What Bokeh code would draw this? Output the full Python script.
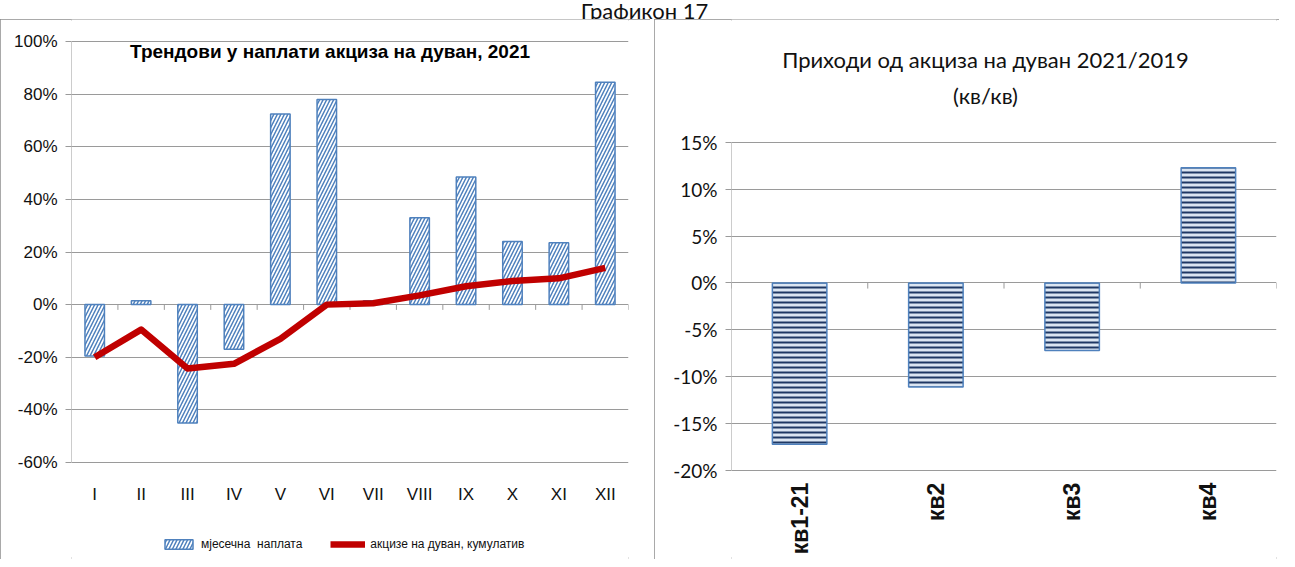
import math
from bokeh.plotting import figure
from bokeh.models import (FactorRange, Range1d, FixedTicker, NumeralTickFormatter,
                          Label, Legend, LegendItem, Div)
from bokeh.layouts import row, column
from bokeh.core.properties import value
from bokeh.embed import file_html
from bokeh.resources import INLINE

# ---------------- data ----------------
months = ["I", "II", "III", "IV", "V", "VI", "VII", "VIII", "IX", "X", "XI", "XII"]
monthly = [-0.195, 0.015, -0.45, -0.17, 0.725, 0.78, 0.015, 0.33, 0.485, 0.24, 0.235, 0.845]
cumulative = [-0.20, -0.095, -0.243, -0.225, -0.13, 0.0, 0.005, 0.035, 0.07, 0.09, 0.10, 0.14]
left_ticks = [-0.6, -0.4, -0.2, 0.0, 0.2, 0.4, 0.6, 0.8, 1.0]

quarters = ["кв1-21", "кв2", "кв3", "кв4"]
quarter_vals = [-0.172, -0.111, -0.072, 0.123]
right_ticks = [-0.20, -0.15, -0.10, -0.05, 0.0, 0.05, 0.10, 0.15]

page_title = "Графикон 17"
left_title = "Трендови у наплати акциза на дуван, 2021"
right_title = ["Приходи од акциза на дуван 2021/2019", "(кв/кв)"]
legend_labels = ["мјесечна  наплата", "акцизе на дуван, кумулатив"]

# ---------------- styles ----------------
SANS = "Liberation Sans"
CAL = "Lato"
GRID = "#9a9a9a"
BLUE = "#4F81BD"
NAVY = "#1F3864"
RED = "#C00000"
TXT = "#111111"
BORDER = {"outline": "2px solid #8c8c8c", "outline-offset": "-2px"}


def style_yaxis(p, ticks, font, size):
    p.yaxis.ticker = FixedTicker(ticks=ticks)
    p.ygrid.ticker = FixedTicker(ticks=ticks)
    p.yaxis.formatter = NumeralTickFormatter(format="0%")
    p.yaxis.axis_line_color = None
    p.yaxis.major_tick_line_color = GRID
    p.yaxis.major_tick_out = 6
    p.yaxis.major_tick_in = 0
    p.yaxis.minor_tick_line_color = None
    p.yaxis.major_label_standoff = 8
    p.yaxis.major_label_text_font = font
    p.yaxis.major_label_text_font_size = size
    p.yaxis.major_label_text_color = TXT
    p.ygrid.grid_line_color = GRID
    p.xgrid.visible = False
    p.xaxis.visible = False
    p.title.visible = False
    p.outline_line_color = None
    p.styles = BORDER


# ---------------- left chart ----------------
p1 = figure(x_range=FactorRange(factors=months), y_range=Range1d(start=-0.969, end=1.084),
            width=650, height=540, output_backend="svg", toolbar_location=None,
            min_border_left=71, min_border_right=22, min_border_top=0, min_border_bottom=0)
style_yaxis(p1, left_ticks, SANS, "17px")

bars = p1.vbar(x=months, top=monthly, bottom=0, width=0.42,
               fill_color="white", line_color=BLUE, line_width=1.5,
               hatch_pattern="/", hatch_color=BLUE, hatch_weight=1.5, hatch_scale=7)
bounds1 = list(range(len(months) + 1))
p1.segment(x0=bounds1, y0=[0] * len(bounds1), x1=bounds1, y1=[-0.02] * len(bounds1),
           line_color=GRID, line_width=1)
p1.segment(x0=[0], y0=[left_ticks[0]], x1=[0], y1=[left_ticks[-1]], line_color=GRID, line_width=1)
line = p1.line(x=months, y=cumulative, line_color=RED, line_width=6.5, line_join="round")

# category labels under the plot area
p1.text(x=months, y=[-0.722] * len(months), text=months, text_align="center",
        text_baseline="middle", text_font=value(SANS), text_font_size="17px", text_color=TXT)

p1.add_layout(Label(x=5.57, y=0.962, text=left_title, text_align="center",
                    text_baseline="middle", text_font=SANS, text_font_style="bold",
                    text_font_size="19px", text_color="#000000"))

legend = Legend(items=[LegendItem(label=legend_labels[0], renderers=[bars]),
                       LegendItem(label=legend_labels[1], renderers=[line])],
                orientation="horizontal", location=(90, 8),
                label_text_font=SANS, label_text_font_size="12px", label_text_color=TXT,
                glyph_width=35, glyph_height=12, spacing=28, padding=4,
                border_line_color=None, background_fill_alpha=0)
p1.add_layout(legend)

# ---------------- right chart ----------------
p2 = figure(x_range=FactorRange(factors=quarters), y_range=Range1d(start=-0.295, end=0.281),
            width=625, height=540, output_backend="svg", toolbar_location=None,
            min_border_left=77, min_border_right=3, min_border_top=0, min_border_bottom=0)
style_yaxis(p2, right_ticks, CAL, "19px")

p2.vbar(x=quarters, top=quarter_vals, bottom=0, width=0.4,
        fill_color="#DCE6F2", line_color=BLUE, line_width=1.5,
        hatch_pattern="-", hatch_color=NAVY, hatch_weight=2, hatch_scale=5)
bounds2 = list(range(len(quarters) + 1))
p2.segment(x0=bounds2, y0=[0] * len(bounds2), x1=bounds2, y1=[-0.006] * len(bounds2),
           line_color=GRID, line_width=1)
p2.segment(x0=[0], y0=[right_ticks[0]], x1=[0], y1=[right_ticks[-1]], line_color=GRID, line_width=1)

p2.text(x=quarters, y=[-0.213] * len(quarters), text=quarters, angle=math.pi / 2,
        text_align="right", text_baseline="middle", text_font=value(SANS),
        text_font_style="bold", text_font_size="23px", text_color=TXT)

p2.add_layout(Label(x=1.864, y=0.2385, text=right_title[0], text_align="center",
                    text_baseline="middle", text_font=CAL, text_font_size="22px",
                    text_color=TXT))
p2.add_layout(Label(x=1.864, y=0.200, text=right_title[1], text_align="center",
                    text_baseline="middle", text_font=CAL, text_font_size="22px",
                    text_color=TXT))

# ---------------- page title ----------------
title_div = Div(text=page_title, width=1279, height=9,
                styles={"text-align": "center", "font-family": "Lato, sans-serif",
                        "font-size": "22px", "line-height": "12px", "color": "#111"})

layout = column(title_div, row(p1, p2, spacing=4), spacing=0)

open("out.html", "w").write(file_html(layout, INLINE))
